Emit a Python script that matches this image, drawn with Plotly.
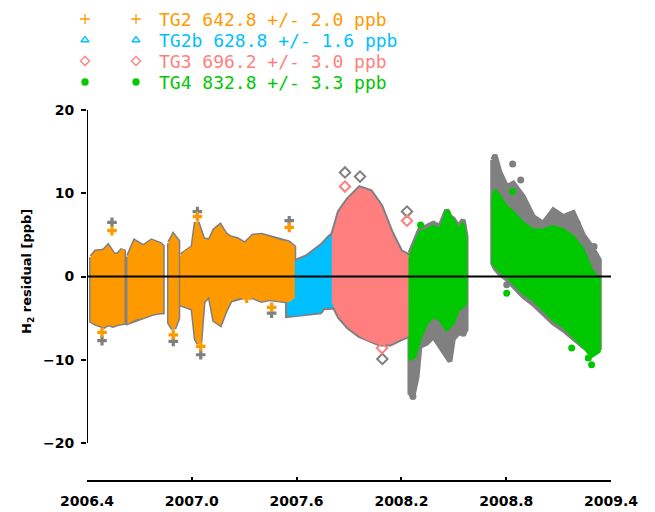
import plotly.graph_objects as go

# ---------------- data ----------------
# TG2 (orange) blocks: decimal year, upper and lower envelope (ppb)
TG2_X = [
    [2006.429, 2006.452, 2006.497, 2006.520, 2006.549, 2006.577, 2006.606],
    [2006.640, 2006.675, 2006.722, 2006.770, 2006.818, 2006.828],
    [2006.875, 2006.895, 2006.917],
    [2006.942, 2006.971, 2007.009, 2007.028, 2007.043, 2007.062, 2007.104, 2007.133,
     2007.161, 2007.190, 2007.219, 2007.257, 2007.305, 2007.352, 2007.400, 2007.448,
     2007.505, 2007.553, 2007.581],
]
TG2_HI = [
    [2.3, 2.9, 3.0, 3.5, 2.6, 2.5, 3.2],
    [2.4, 4.1, 3.5, 4.2, 3.8, 3.6],
    [4.0, 4.8, 4.2],
    [2.5, 3.0, 3.5, 6.5, 5.5, 4.4, 4.2, 5.5, 6.0, 5.0, 4.6, 4.4, 3.8, 4.8, 4.9, 4.6,
     4.2, 4.0, 3.5],
]
TG2_LO = [
    [-5.3, -5.6, -5.9, -5.6, -5.8, -5.6, -5.5],
    [-5.4, -5.0, -4.8, -4.4, -4.2, -4.2],
    [-5.5, -6.2, -5.0],
    [-3.3, -3.5, -3.8, -7.5, -8.0, -3.0, -2.0, -5.2, -5.6, -4.0, -2.8, -2.5, -2.3, -2.4,
     -2.8, -2.6, -2.8, -2.9, -2.5],
]
TG2_OUT_X = [2006.543, 2006.486, 2006.894, 2007.032, 2007.051, 2007.457, 2007.558, 2007.314]
TG2_OUT_Y = [5.5, -6.7, -7.0, 7.2, -8.4, -3.7, 5.9, -2.6]
TG2_GREY_OUT_X = [2006.543, 2006.486, 2006.894, 2007.032, 2007.051, 2007.457, 2007.558]
TG2_GREY_OUT_Y = [6.5, -7.7, -7.8, 7.8, -9.4, -4.4, 6.7]

# TG2b (cyan)
TG2B_X = [2007.551, 2007.600, 2007.658, 2007.734, 2007.752, 2007.791, 2007.837]
TG2B_HI = [1.2, 1.8, 2.3, 3.5, 3.8, 4.7, 5.3]
TG2B_LO = [-4.6, -4.6, -4.4, -4.2, -3.7, -3.6, -3.6]

# TG3 (pink)
TG3_X = [2007.810, 2007.850, 2007.900, 2007.963, 2008.020, 2008.077, 2008.135, 2008.192,
         2008.238, 2008.249]
TG3_HI = [4.8, 7.7, 9.2, 10.5, 10.1, 8.4, 5.3, 2.9, 2.4, 2.3]
TG3_LO = [-3.1, -4.8, -6.0, -7.0, -7.6, -8.0, -8.0, -7.4, -7.0, -7.0]
TG3_OUT_X = [2007.877, 2008.232, 2008.089]
TG3_OUT_Y = [10.8, 6.7, -8.6]
TG3_GREY_OUT_X = [2007.877, 2008.232, 2008.091, 2007.963]
TG3_GREY_OUT_Y = [12.5, 7.8, -9.9, 12.0]

# TG4 (green), two periods
TG4_X = [
    [2008.249, 2008.278, 2008.306, 2008.345, 2008.383, 2008.421, 2008.459, 2008.497,
     2008.526, 2008.554, 2008.570],
    [2008.723, 2008.736, 2008.764, 2008.803, 2008.841, 2008.898, 2008.955, 2009.012,
     2009.070, 2009.127, 2009.184, 2009.241, 2009.289, 2009.333],
]
TG4_HI = [
    [2.4, 3.8, 5.3, 5.6, 6.0, 5.6, 7.7, 6.8, 5.6, 6.4, 4.4],
    [9.6, 10.4, 9.6, 8.4, 7.7, 6.4, 5.6, 5.6, 6.0, 5.6, 4.8, 3.2, 0.8, -0.4],
]
TG4_LO = [
    [-10.0, -9.6, -7.6, -5.6, -4.8, -5.2, -6.4, -5.6, -4.0, -3.6, -3.2],
    [1.6, 1.2, 0.6, 0.0, -0.8, -2.0, -2.8, -4.0, -5.2, -6.0, -7.2, -8.4, -9.6, -9.0],
]
TG4_GREY_X = [
    [2008.249, 2008.266, 2008.290, 2008.306, 2008.345, 2008.383, 2008.421, 2008.459,
     2008.478, 2008.497, 2008.526, 2008.554, 2008.570],
    [2008.723, 2008.736, 2008.764, 2008.803, 2008.841, 2008.898, 2008.955, 2009.012,
     2009.070, 2009.127, 2009.184, 2009.241, 2009.289, 2009.333],
]
TG4_GREY_HI = [
    [2.8, 3.6, 4.6, 5.7, 6.0, 6.4, 6.0, 8.0, 7.2, 6.9, 6.0, 6.8, 4.8],
    [14.0, 14.6, 12.5, 10.8, 11.2, 9.6, 7.2, 6.4, 8.0, 7.2, 7.7, 5.0, 3.6, 2.0],
]
TG4_GREY_LO = [
    [-14.0, -14.4, -12.0, -8.4, -8.0, -7.2, -8.4, -9.6, -10.2, -7.5, -6.8, -6.8, -6.4],
    [1.6, 1.0, 0.3, -0.3, -1.2, -2.4, -3.3, -4.4, -5.6, -6.4, -7.4, -8.4, -9.0, -8.6],
]
TG4_OUT_X = [2009.289, 2009.270, 2009.175, 2008.803, 2008.837, 2008.463, 2008.310]
TG4_OUT_Y = [-10.6, -9.8, -8.6, -2.0, 10.2, 7.6, 6.2]
TG4_GREY_OUT_X = [2008.837, 2008.883, 2008.803, 2009.207, 2009.303, 2008.266, 2008.554]
TG4_GREY_OUT_Y = [13.5, 11.6, -1.0, 6.4, 3.6, -14.4, -6.8]

LEGEND_TEXT = ["TG2 642.8 +/- 2.0 ppb", "TG2b 628.8 +/- 1.6 ppb",
               "TG3 696.2 +/- 3.0 ppb", "TG4 832.8 +/- 3.3 ppb"]
X_TICKS = [2006.4, 2007.0, 2007.6, 2008.2, 2008.8, 2009.4]
X_TICK_TEXT = ["2006.4", "2007.0", "2007.6", "2008.2", "2008.8", "2009.4"]
Y_TICKS = [-20, -10, 0, 10, 20]

# ---------------- styles ----------------
ORANGE = "#FF9900"
CYAN = "#00BFFF"
PINK = "#FF7F7F"
GREEN = "#00C800"
GREY = "#808080"
COLORS = [ORANGE, CYAN, PINK, GREEN]
SYMBOLS = ["cross-thin-open", "triangle-up-open", "diamond-open", "circle"]

fig = go.Figure()


def band(x, hi, lo, color, lw):
    xs = list(x) + list(x)[::-1] + [x[0]]
    ys = list(hi) + list(lo)[::-1] + [hi[0]]
    fig.add_trace(go.Scatter(x=xs, y=ys, mode="lines", fill="toself",
                             fillcolor=color, line=dict(color=color, width=lw),
                             hoverinfo="skip", showlegend=False))


def pts(x, y, color, symbol, size, lw=0):
    fig.add_trace(go.Scatter(x=x, y=y, mode="markers", showlegend=False,
                             hoverinfo="skip",
                             marker=dict(color=color, symbol=symbol, size=size,
                                         line=dict(color=color, width=lw))))


# grey (unfiltered) halos first
for x, hi, lo in zip(TG2_X, TG2_HI, TG2_LO):
    band(x, hi, lo, GREY, 6)
band(TG2B_X, TG2B_HI, TG2B_LO, GREY, 6)
band(TG3_X, TG3_HI, TG3_LO, GREY, 7)
for x, hi, lo in zip(TG4_GREY_X, TG4_GREY_HI, TG4_GREY_LO):
    band(x, hi, lo, GREY, 5)
pts(TG2_GREY_OUT_X, TG2_GREY_OUT_Y, GREY, "cross", 8)
pts(TG3_GREY_OUT_X, TG3_GREY_OUT_Y, GREY, "diamond-open", 8, 2)
pts(TG4_GREY_OUT_X, TG4_GREY_OUT_Y, GREY, "circle", 7)

# coloured series
band(TG2B_X, TG2B_HI, TG2B_LO, CYAN, 2)
for x, hi, lo in zip(TG2_X, TG2_HI, TG2_LO):
    band(x, hi, lo, ORANGE, 3)
band(TG3_X, TG3_HI, TG3_LO, PINK, 3)
for x, hi, lo in zip(TG4_X, TG4_HI, TG4_LO):
    band(x, hi, lo, GREEN, 3)
pts(TG2_OUT_X, TG2_OUT_Y, ORANGE, "cross", 8)
pts(TG3_OUT_X, TG3_OUT_Y, PINK, "diamond-open", 8, 2)
pts(TG4_OUT_X, TG4_OUT_Y, GREEN, "circle", 7)

# legend (overlay axes x2/y2 spanning the whole page, units = page pixels)
LEG_Y = [19, 40, 61, 82]
for i in range(4):
    fig.add_trace(go.Scatter(
        x=[85, 136], y=[LEG_Y[i], LEG_Y[i]], xaxis="x2", yaxis="y2", mode="markers",
        cliponaxis=False, showlegend=False, hoverinfo="skip",
        marker=dict(symbol=SYMBOLS[i], size=7 if i != 3 else 6,
                    color=COLORS[i], line=dict(color=COLORS[i], width=1.3))))
    fig.add_annotation(x=157, y=LEG_Y[i], xref="x2", yref="y2", text=LEGEND_TEXT[i],
                       showarrow=False, xanchor="left", yanchor="middle",
                       font=dict(family="DejaVu Sans Mono", size=18, color=COLORS[i]))

fig.add_annotation(x=27, y=272, xref="x2", yref="y2", text="H<sub>2</sub> residual [ppb]",
                   textangle=-90, showarrow=False, xanchor="center", yanchor="middle",
                   font=dict(family="DejaVu Sans", size=13, color="black", weight="bold"))

# axis lines and zero line
fig.add_shape(type="line", xref="x", yref="y", x0=2006.4, x1=2006.4, y0=-20, y1=20,
              line=dict(color="black", width=2))
fig.add_shape(type="line", xref="x", yref="paper", x0=2006.4, x1=2009.4, y0=0, y1=0,
              line=dict(color="black", width=2))
fig.add_shape(type="line", xref="x", yref="y", x0=2006.4, x1=2009.4, y0=0, y1=0,
              line=dict(color="black", width=2), layer="above")

# page is offset by the browser's 8px body margin; layout compensates
X_DOM = [79 / 655, 603 / 655]
tickfont = dict(family="DejaVu Sans", size=14, color="black", weight="bold")
fig.update_layout(
    width=655, height=512,
    margin=dict(l=0, r=0, t=0, b=39, autoexpand=False),
    paper_bgcolor="white", plot_bgcolor="rgba(0,0,0,0)",
    showlegend=False,
    xaxis=dict(range=[2006.4, 2009.4], domain=X_DOM, anchor="y", automargin=False,
               tickvals=X_TICKS, ticktext=X_TICK_TEXT, ticks="inside", ticklen=4,
               tickwidth=2, tickcolor="black", showline=False, showgrid=False,
               zeroline=False, tickfont=tickfont, ticklabelstandoff=10),
    yaxis=dict(range=[-24.56, 20], domain=[0, 0.7844], anchor="x", automargin=False,
               tickvals=Y_TICKS, ticks="outside", ticklen=5, tickwidth=2,
               tickcolor="black", showline=False, showgrid=False, zeroline=False,
               tickfont=tickfont, ticklabelstandoff=4),
    xaxis2=dict(range=[8, 663], domain=[0, 1], anchor="y2", visible=False,
                automargin=False),
    yaxis2=dict(range=[481, 8], domain=[0, 1], anchor="x2", visible=False,
                automargin=False),
)

fig.write_html("out.html")
